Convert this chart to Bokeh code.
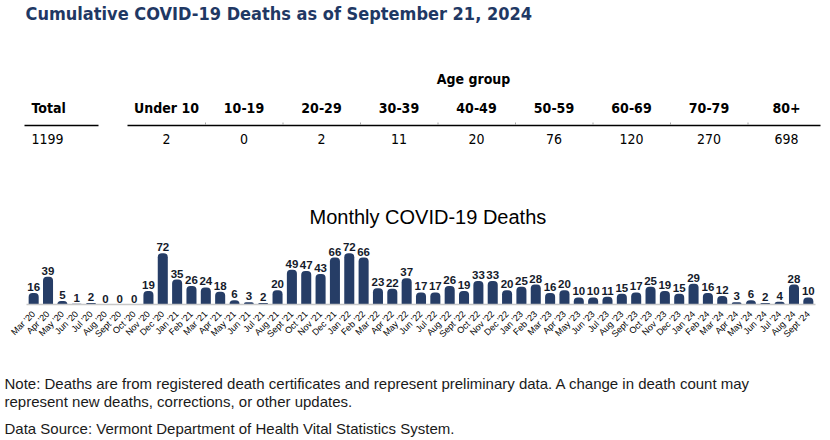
import math

from bokeh.core.properties import value
from bokeh.embed import file_html
from bokeh.layouts import column
from bokeh.models import ColumnDataSource, FactorRange, LabelSet, Range1d
from bokeh.plotting import figure
from bokeh.resources import INLINE

# ---- data -------------------------------------------------------------
report_title = "Cumulative COVID-19 Deaths as of September 21, 2024"
age_groups = ["Under 10", "10-19", "20-29", "30-39", "40-49",
              "50-59", "60-69", "70-79", "80+"]
age_deaths = [2, 0, 2, 11, 20, 76, 120, 270, 698]
total_deaths = 1199

months = [
    "Mar '20", "Apr '20", "May '20", "Jun '20", "Jul '20", "Aug '20", "Sept '20",
    "Oct '20", "Nov '20", "Dec '20",
    "Jan '21", "Feb '21", "Mar '21", "Apr '21", "May '21", "Jun '21", "Jul '21",
    "Aug '21", "Sept '21", "Oct '21", "Nov '21", "Dec '21",
    "Jan '22", "Feb '22", "Mar '22", "Apr '22", "May '22", "Jun '22", "Jul '22",
    "Aug '22", "Sept '22", "Oct '22", "Nov '22", "Dec '22",
    "Jan '23", "Feb '23", "Mar '23", "Apr '23", "May '23", "Jun '23", "Jul '23",
    "Aug '23", "Sept '23", "Oct '23", "Nov '23", "Dec '23",
    "Jan '24", "Feb '24", "Mar '24", "Apr '24", "May '24", "Jun '24", "Jul '24",
    "Aug '24", "Sept '24",
]
monthly_deaths = [
    16, 39, 5, 1, 2, 0, 0, 0, 19, 72,
    35, 26, 24, 18, 6, 3, 2, 20, 49, 47, 43, 66,
    72, 66, 23, 22, 37, 17, 17, 26, 19, 33, 33, 20,
    25, 28, 16, 20, 10, 10, 11, 15, 17, 25, 19, 15,
    29, 16, 12, 3, 6, 2, 4, 28, 10,
]

note_lines = [
    "Note: Deaths are from registered death certificates and represent preliminary data. A change in death count may",
    "represent new deaths, corrections, or other updates.",
]
source_line = "Data Source: Vermont Department of Health Vital Statistics System."

# ---- styling ------------------------------------------------------------
NAVY = "#1F3864"
BAR = "#263D66"
NARROW = value("DejaVu Sans Condensed")
SANS = value("Liberation Sans")
W = 830


def blank(height):
    f = figure(width=W, height=height, x_range=Range1d(0, W), y_range=Range1d(height, 0),
               output_backend="svg", toolbar_location=None, frame_align=False,
               min_border=0, min_border_left=0, min_border_right=0,
               min_border_top=0, min_border_bottom=0)
    f.axis.visible = False
    f.grid.visible = False
    f.outline_line_color = None
    f.background_fill_color = "white"
    f.border_fill_color = "white"
    return f


# ---- header and age table ------------------------------------------------
head = blank(150)
head.text(x=[25], y=[13], text=[report_title], text_font=NARROW, text_font_size="18px",
          text_font_style="bold", text_color=NAVY, text_baseline="middle", text_align="left")

col_x = [166 + 77.5 * i for i in range(len(age_groups))]
head.text(x=[473], y=[78], text=["Age group"], text_font=NARROW, text_font_size="14px",
          text_font_style="bold", text_color="black", text_align="center", text_baseline="middle")

hdr = ColumnDataSource(dict(x=col_x, y=[107] * len(age_groups), t=age_groups))
head.text(x="x", y="y", text="t", source=hdr, text_font=NARROW, text_font_size="14px",
          text_font_style="bold", text_color="black", text_align="center", text_baseline="middle")
head.text(x=[31], y=[107], text=["Total"], text_font=NARROW, text_font_size="14px",
          text_font_style="bold", text_color="black", text_align="left", text_baseline="middle")

vals = ColumnDataSource(dict(x=col_x, y=[138] * len(age_groups), t=[str(v) for v in age_deaths]))
head.text(x="x", y="y", text="t", source=vals, text_font=NARROW, text_font_size="14px",
          text_color="black", text_align="center", text_baseline="middle")
head.text(x=[31], y=[138], text=[str(total_deaths)], text_font=NARROW, text_font_size="14px",
          text_color="black", text_align="left", text_baseline="middle")

head.segment(x0=[24, 127], y0=[125, 125], x1=[98, 820], y1=[125, 125],
             line_color="black", line_width=1.3)
dividers = [205 + 77.5 * i for i in range(len(age_groups) - 1)]
head.segment(x0=dividers, y0=[122] * len(dividers), x1=dividers, y1=[124.5] * len(dividers),
             line_color="#A6A6A6", line_width=1)

# ---- monthly bar chart ---------------------------------------------------
src = ColumnDataSource(dict(month=months, deaths=monthly_deaths,
                            label=[str(v) for v in monthly_deaths]))

bar = figure(width=W, height=195, x_range=FactorRange(*months, range_padding=0),
             y_range=Range1d(0, 97), output_backend="svg", toolbar_location=None,
             frame_align=False,
             min_border_left=26, min_border_right=15, min_border_top=85, min_border_bottom=32,
             title="Monthly COVID-19 Deaths")
bar.title.align = "left"
bar.title.offset = 283
bar.title.text_font = "Liberation Sans"
bar.title.text_font_size = "20px"
bar.title.text_font_style = "normal"
bar.title.text_color = "black"
bar.title.standoff = 15

bar.vbar(x="month", top="deaths", width=0.7, source=src, fill_color=BAR, line_color=None,
         border_radius=(4, 4, 0, 0))
bar.add_layout(LabelSet(x="month", y="deaths", text="label", source=src, y_offset=2,
                        text_align="center", text_baseline="bottom", text_font=SANS,
                        text_font_size="11.5px", text_font_style="bold", text_color="#151B2B"))

bar.yaxis.visible = False
bar.grid.visible = False
bar.outline_line_color = None
bar.xaxis.axis_line_color = "#C8C8C8"
bar.xaxis.axis_line_width = 1.3
bar.xaxis.major_tick_line_color = None
bar.xaxis.minor_tick_line_color = None
bar.xaxis.major_label_orientation = math.pi / 4
bar.xaxis.major_label_text_font = "Liberation Sans"
bar.xaxis.major_label_text_font_size = "9px"
bar.xaxis.major_label_text_color = "black"
bar.xaxis.major_label_standoff = 2

# ---- footnotes -----------------------------------------------------------
foot = blank(95)
foot.text(x=[4, 4, 4], y=[38, 56, 83], text=note_lines + [source_line], text_font=SANS,
          text_font_size="15px", text_color="#1A1A1A", text_align="left", text_baseline="middle")

page = column(head, bar, foot, spacing=0)
open("out.html", "w").write(file_html(page, INLINE))
